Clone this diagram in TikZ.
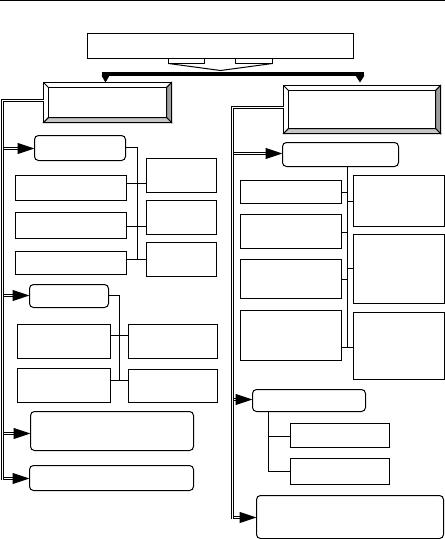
\documentclass[tikz,border=0pt]{standalone}
\usetikzlibrary{arrows.meta,calc}
\begin{document}
\begin{tikzpicture}[x=1pt,y=-1pt,
  bx/.style={draw, line width=1pt, inner sep=0pt, outer sep=0pt, fill=white},
  rbx/.style={bx, rounded corners=4pt},
  ln/.style={line width=1pt},
  dbl/.style={draw, line width=1pt, double=white, double distance=1pt},
  arr/.style={-{Triangle[length=17pt,width=11pt]}, line width=1pt},
  barline/.style={line width=4pt},
  bevelR/.style={fill=black!38, draw, line width=1pt},
  bevelB/.style={fill=black!22, draw, line width=1pt}]
\useasboundingbox (0,0) rectangle (445,539);
\newcommand\mkbox[6]{\node[#6, minimum width={(#4-#2)*1pt}, minimum height={(#5-#3)*1pt}] (#1) at ({(#2+#4)/2},{(#3+#5)/2}) {};}
\newcommand\bevelbox[6]{%
  \mkbox{#1}{#2}{#3}{#4}{#5}{bx}
  \filldraw[bevelR] (#4,#3) -- (#4,#5) -- ({#4-#6},{#5-#6}) -- ({#4-#6},{#3+#6}) -- cycle;
  \filldraw[bevelB] (#2,#5) -- (#4,#5) -- ({#4-#6},{#5-#6}) -- ({#2+#6},{#5-#6}) -- cycle;
  \draw[line width=1pt] (#2,#3) -- ({#2+#6},{#3+#6}) (#2,#5) -- ({#2+#6},{#5-#6}) (#4,#3) -- ({#4-#6},{#3+#6});
  \draw[line width=1pt] ({#2+#6},{#3+#6}) rectangle ({#4-#6},{#5-#6});
  \draw[line width=1pt] (#2,#3) rectangle (#4,#5);}
\begin{scope}[shift={(0.5,0.5)}]
% top rule
\coordinate (tl) at (-1,0); \coordinate (tr) at (444,0);
\draw[ln] (tl) -- (tr);

% top box with pointer
\mkbox{top}{87}{33}{353}{58}{bx}
\draw[ln] (168,58) rectangle (204,63);
\draw[ln] (235,58) rectangle (272,63);
\coordinate (ptip) at (220,70);
\draw[ln] (168,63) -- (ptip) -- (272,63);

% thick distribution bar
\coordinate (barL) at (101,73.5); \coordinate (barR) at (363,73.5);
\draw[barline] (barL) -- (barR);
\fill (101,75) -- (109,75) -- (105,82) -- cycle;
\fill (355,75) -- (364,75) -- (359.5,82) -- cycle;

% bevelled heads
\bevelbox{LH}{43}{82}{171}{122}{5}
\bevelbox{RH}{283}{85}{440}{133}{5}

% ---------------- left column ----------------
\mkbox{L1}{34}{135}{125}{160}{rbx}
\mkbox{LA}{15}{175}{126}{200}{bx}
\mkbox{LB}{15}{212}{126}{238}{bx}
\mkbox{LC}{15}{251}{126}{274}{bx}
\mkbox{LD}{146}{158}{216}{192}{bx}
\mkbox{LE}{146}{200}{216}{234}{bx}
\mkbox{LF}{146}{242}{216}{276}{bx}
\coordinate (v1t) at (137,147); \coordinate (v1b) at (137,259);
\draw[ln] (L1.east |- v1t) -- (v1t) -- (v1b);
\draw[ln] (126,183) -- (146,183);
\draw[ln] (126,226) -- (146,226);
\draw[ln] (126,259) -- (146,259);

\mkbox{L2}{29}{284}{108}{307}{rbx}
\mkbox{LG}{17}{324}{110}{358}{bx}
\mkbox{LHH}{128}{324}{217}{358}{bx}
\mkbox{LI}{17}{368}{110}{402}{bx}
\mkbox{LJ}{128}{369}{217}{402}{bx}
\coordinate (v2t) at (119,295); \coordinate (v2b) at (119,380);
\draw[ln] (L2.east |- v2t) -- (v2t) -- (v2b);
\draw[ln] (110,335) -- (128,335);
\draw[ln] (110,380) -- (128,380);

\mkbox{L3}{30}{411}{193}{450}{rbx}
\mkbox{L4}{29}{465}{193}{490}{rbx}

% left trunk and branches
\coordinate (lh) at (43,100);
\coordinate (lt0) at (2,100); \coordinate (lt1) at (2,479);
\coordinate (b1) at (2,148); \coordinate (b2) at (2,295);
\coordinate (b3) at (2,433); \coordinate (b4) at (2,478);
\foreach \b/\n in {b1/L1,b2/L2,b3/L3,b4/L4}{
  \draw[dbl] (\b) -- (\b -| {$(\n.west)+(-16,0)$});
  \draw[arr] (\b -| {$(\n.west)+(-17,0)$}) -- (\b -| \n.west);
}
\draw[dbl,line join=miter] (lh) -- (lt0) -- (lt1);

% ---------------- right column ----------------
\mkbox{R1}{282}{142}{398}{166}{rbx}
\mkbox{RK}{240}{180}{341}{203}{bx}
\mkbox{RL}{240}{214}{341}{248}{bx}
\mkbox{RM}{240}{259}{341}{298}{bx}
\mkbox{RP}{240}{310}{341}{360}{bx}
\mkbox{RN}{353}{175}{444}{226}{bx}
\mkbox{RO}{353}{234}{444}{303}{bx}
\mkbox{RQ}{353}{312}{444}{379}{bx}
\coordinate (rvt) at (347,166); \coordinate (rv) at (347,347);
\draw[ln] (rvt) -- (rv);
\draw[ln] (341,192) -- (347,192);
\draw[ln] (347,201) -- (353,201);
\draw[ln] (341,232) -- (347,232);
\draw[ln] (341,279) -- (347,279);
\draw[ln] (347,268) -- (353,268);
\draw[ln] (341,347) -- (353,347);

\mkbox{R2}{252}{389}{365}{411}{rbx}
\mkbox{RS}{290}{423}{389}{447}{bx}
\mkbox{RT}{290}{458}{389}{484}{bx}
\coordinate (r2t) at (268,411); \coordinate (r2v) at (268,471);
\draw[ln] (r2t) -- (r2v) -- (290,471);
\draw[ln] (268,436) -- (290,436);

\mkbox{R3}{256}{495}{443}{538}{rbx}

\coordinate (rh) at (283,107);
\coordinate (rt0) at (232,107); \coordinate (rt1) at (232,518);
\coordinate (c1) at (232,153); \coordinate (c2) at (232,399);
\coordinate (c3) at (232,517);
\foreach \b/\n in {c1/R1,c2/R2,c3/R3}{
  \draw[dbl] (\b) -- (\b -| {$(\n.west)+(-16,0)$});
  \draw[arr] (\b -| {$(\n.west)+(-17,0)$}) -- (\b -| \n.west);
}
\draw[dbl,line join=miter] (rh) -- (rt0) -- (rt1);
\end{scope}
\end{tikzpicture}
\end{document}
